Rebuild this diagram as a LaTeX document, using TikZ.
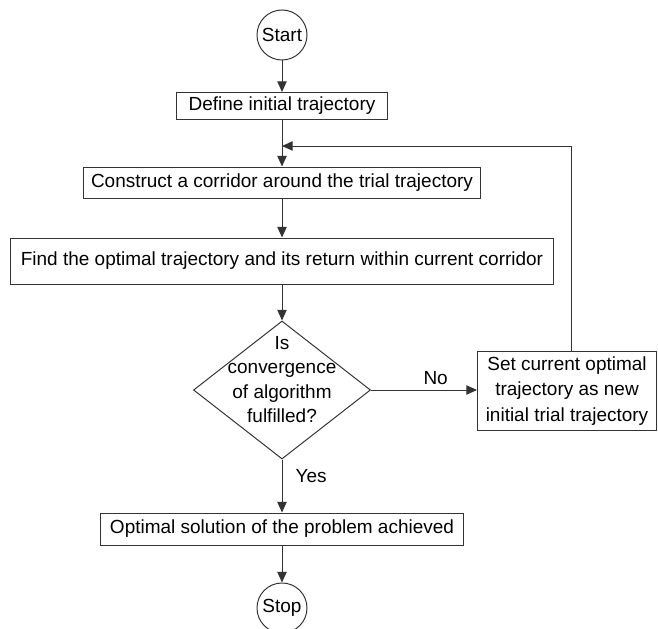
\documentclass[tikz,border=0pt]{standalone}
\usepackage{fontspec}
\setmainfont{Liberation Sans}
\usetikzlibrary{shapes.geometric,arrows.meta}

\tikzset{
	box/.style={shape=rectangle,draw=black!80,line width=0.7pt,inner sep=0pt,align=center},
	terminal/.style={shape=circle,draw=black!80,line width=0.7pt,inner sep=0pt,minimum size=1.25cm},
	decision/.style={shape=diamond,draw=black!80,line width=0.7pt,inner sep=0pt,minimum width=4.425cm,minimum height=3.45cm},
	flow/.style={color=black!80,line width=0.7pt,-{Triangle[length=7.5pt,width=6.6pt]}}
}

\begin{document}
\begin{tikzpicture}[x=0.025cm,y=-0.025cm,every node/.style={font=\fontsize{13.5}{17.4}\selectfont,text=black}]
	\useasboundingbox (0,0) rectangle (658,629);

	\node[terminal] (start) at (282, 35)  {Start};
	\node[box,minimum width=5.25cm,minimum height=0.675cm] (define) at (282, 106) {Define initial trajectory};
	\node[box,minimum width=9.9cm,minimum height=0.775cm] (construct) at (282, 182.5) {Construct a corridor around the trial trajectory};
	\node[box,minimum width=13.55cm,minimum height=1.15cm] (find) at (282, 261) {Find the optimal trajectory and its return within current corridor};
	\node[decision,label={[align=center,yshift=7.5pt]center:Is\\convergence\\of algorithm\\fulfilled?}] (check) at (282, 390) {};
	\node[box,minimum width=4.475cm,minimum height=1.95cm,font=\fontsize{13.5}{18}\selectfont] (setnew) at (567, 391) {Set current optimal\\trajectory as new\\initial trial trajectory};
	\node[box,minimum width=9.05cm,minimum height=0.8cm] (achieved) at (282, 529) {Optimal solution of the problem achieved};
	\node[terminal] (stop) at (282, 608) {Stop};
	\coordinate (merge) at (282, 146);

	\path[flow] (start) edge (define);
	\path[flow] (define) edge (construct);
	\path[flow] (construct) edge (find);
	\path[flow] (find) edge (check);
	\path[flow] (check.east) edge node[pos=0.61,above]{No} (setnew.west |- check.east);
	\path[flow] (check.south) edge node[pos=0.31,right=6pt]{Yes} (achieved);
	\path[flow] (achieved) edge (stop);
	\draw[flow] ([xshift=3pt]setnew.north) |- (merge);

\end{tikzpicture}
\end{document}
